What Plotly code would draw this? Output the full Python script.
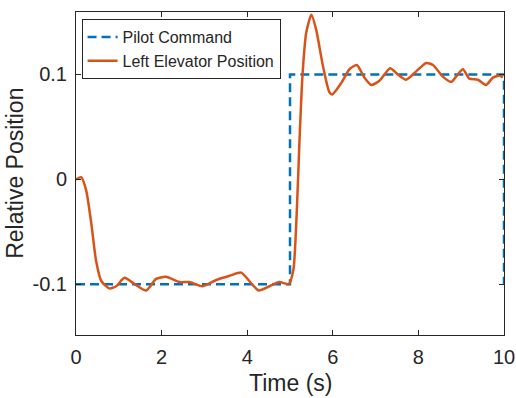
import plotly.graph_objects as go

# pilot command (step input)
cmd_t = [0, 5, 5, 10, 10]
cmd_y = [-0.1, -0.1, 0.1, 0.1, -0.1]

# left elevator response
pos_t = [0.0, 0.12, 0.24, 0.36, 0.47, 0.59, 0.78, 0.94, 1.13, 1.37, 1.64, 1.87, 2.1,
         2.42, 2.65, 2.96, 3.28, 3.59, 3.86, 4.09, 4.27, 4.52, 4.75, 4.97, 5.08,
         5.16, 5.22, 5.29, 5.38, 5.5, 5.61, 5.77, 5.92, 5.99, 6.2, 6.39, 6.56, 6.74,
         6.9, 7.09, 7.34, 7.52, 7.71, 7.95, 8.18, 8.34, 8.57, 8.77, 8.88, 9.04,
         9.19, 9.39, 9.58, 9.74, 9.9, 9.97]
pos_y = [0.0, 0.002, -0.011, -0.043, -0.078, -0.097, -0.104, -0.102, -0.094, -0.1,
         -0.106, -0.095, -0.093, -0.098, -0.098, -0.102, -0.096, -0.092, -0.089,
         -0.099, -0.106, -0.102, -0.098, -0.1, -0.086, -0.029, 0.035, 0.098, 0.14,
         0.157, 0.143, 0.108, 0.083, 0.081, 0.092, 0.105, 0.109, 0.097, 0.09, 0.094,
         0.106, 0.1, 0.095, 0.103, 0.111, 0.109, 0.098, 0.093, 0.098, 0.105,
         0.096, 0.095, 0.09, 0.097, 0.099, 0.097]

font = "Liberation Sans, Arial, sans-serif"
ink = "#262626"

fig = go.Figure()
fig.add_trace(go.Scatter(
    x=cmd_t, y=cmd_y, mode="lines", name="Pilot Command",
    line=dict(color="#0072BD", width=2.5, dash="9px,5px"),
))
fig.add_trace(go.Scatter(
    x=pos_t, y=pos_y, mode="lines", name="Left Elevator Position",
    line=dict(color="#D95319", width=2.5, shape="spline", smoothing=0.6),
))

axis_common = dict(
    showgrid=False, zeroline=False, showline=True, mirror="ticks",
    linecolor=ink, linewidth=1, ticks="inside", ticklen=5, tickcolor=ink,
    tickfont=dict(family=font, size=20, color=ink), automargin=False,
)
fig.update_xaxes(range=[0, 10], tickvals=[0, 2, 4, 6, 8, 10],
                 ticklabelstandoff=4, **axis_common)
fig.update_yaxes(range=[-0.1485, 0.1596], tickvals=[-0.1, 0, 0.1],
                 ticktext=["-0.1", "0", "0.1"], ticklabelstandoff=4, **axis_common)

# axis titles as annotations so they sit where MATLAB put them
fig.add_annotation(text="Time (s)", xref="paper", yref="paper", x=0.5, y=-0.15,
                   xanchor="center", yanchor="middle", showarrow=False,
                   font=dict(family=font, size=23, color=ink))
fig.add_annotation(text="Relative Position", xref="paper", yref="paper", x=-0.144, y=0.5,
                   xanchor="center", yanchor="middle", showarrow=False, textangle=-90,
                   font=dict(family=font, size=23, color=ink))

fig.update_layout(
    width=516, height=398,
    margin=dict(l=76, r=12, t=12, b=63),
    plot_bgcolor="white", paper_bgcolor="white",
    showlegend=True,
    legend=dict(
        x=0.013, y=0.978, xanchor="left", yanchor="top",
        bgcolor="white", bordercolor=ink, borderwidth=1,
        font=dict(family=font, size=16, color=ink),
        tracegroupgap=0, itemwidth=30,
    ),
)

# drop the default 8px body margin so the figure fills the window
fig.write_html("out.html", config={"displayModeBar": False},
               post_script="document.body.style.margin = '0px';")
